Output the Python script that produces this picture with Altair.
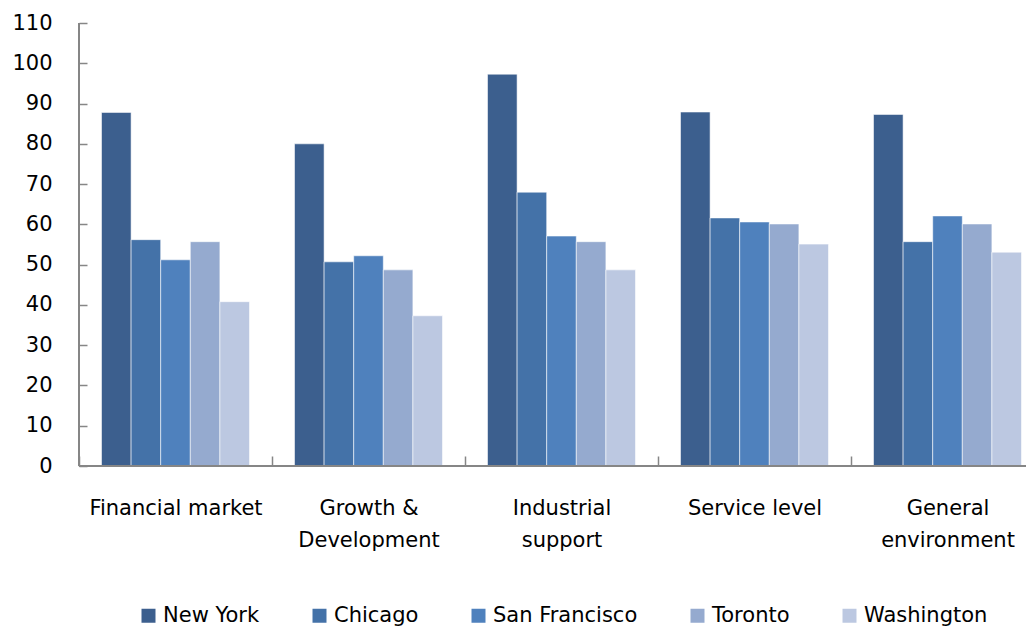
import altair as alt
import pandas as pd

categories = ["Financial market", "Growth & Development", "Industrial support",
              "Service level", "General environment"]
category_lines = [["Financial market"], ["Growth &", "Development"], ["Industrial", "support"],
                  ["Service level"], ["General", "environment"]]
cities = ["New York", "Chicago", "San Francisco", "Toronto", "Washington"]
new_york = [87.8, 80.0, 97.3, 87.9, 87.3]
chicago = [56.2, 50.7, 68.0, 61.6, 55.7]
san_francisco = [51.2, 52.2, 57.1, 60.6, 62.1]
toronto = [55.7, 48.7, 55.7, 60.1, 60.1]
washington = [40.8, 37.3, 48.7, 55.1, 53.1]
colors = ["#3C5F8E", "#4472A8", "#4F81BD", "#95AACF", "#BCC8E1"]
y_ticks = list(range(0, 111, 10))

series = [new_york, chicago, san_francisco, toronto, washington]
rows = []
for city, vals in zip(cities, series):
    for cat, v in zip(categories, vals):
        rows.append({"category": cat, "city": city, "value": v})
df = pd.DataFrame(rows)

# multi-line label expression
expr = "datum.label"
for cat, lines in reversed(list(zip(categories, category_lines))):
    arr = "[" + ",".join("'" + l + "'" for l in lines) + "]"
    expr = f"datum.label == '{cat}' ? {arr} : ({expr})"

FONT = "DejaVu Sans"
W, H = 947, 443
BAND_RANGE = 965
AXIS_COLOR = "#868686"

bars = alt.Chart(df).mark_bar(stroke="#ffffff", strokeWidth=0.8, strokeOpacity=0.7).encode(
    x=alt.X("category:N", sort=categories, title=None,
            scale=alt.Scale(range=[0, BAND_RANGE], paddingInner=0, paddingOuter=0),
            axis=alt.Axis(domain=False, tickBand="extent", tickSize=10, offset=-10,
                          tickColor=AXIS_COLOR, tickWidth=1.5, labelAngle=0,
                          labelPadding=31, labelFontSize=21, labelFont=FONT,
                          labelColor="#000000", labelLineHeight=32, labelExpr=expr,
                          labelBaseline="top")),
    xOffset=alt.XOffset("city:N", sort=cities,
                        scale=alt.Scale(paddingInner=0, paddingOuter=0.76)),
    y=alt.Y("value:Q", title=None,
            scale=alt.Scale(domain=[0, 110], nice=False),
            axis=alt.Axis(values=y_ticks, domain=False, grid=False, tickSize=8, offset=-8,
                          tickColor=AXIS_COLOR, tickWidth=1.5, labelPadding=27,
                          labelFontSize=21, labelFont=FONT, labelColor="#000000")),
    color=alt.Color("city:N", sort=cities,
                    scale=alt.Scale(domain=cities, range=colors),
                    legend=alt.Legend(title=None, orient="none", direction="horizontal",
                                      legendX=59, legendY=582,
                                      symbolType="square", symbolSize=196,
                                      symbolStrokeWidth=0, labelFontSize=21,
                                      labelFont=FONT, labelColor="#000000",
                                      columnPadding=49, labelOffset=4)),
)

one = pd.DataFrame({"a": [0]})
y_line = alt.Chart(one).mark_rule(color=AXIS_COLOR, strokeWidth=2).encode(
    x=alt.value(0), y=alt.value(0), y2=alt.value(H))
x_line = alt.Chart(one).mark_rule(color=AXIS_COLOR, strokeWidth=2).encode(
    x=alt.value(0), x2=alt.value(BAND_RANGE), y=alt.value(H))

chart = alt.layer(bars, y_line, x_line).properties(
    width=W, height=H,
    background="#ffffff",
    autosize=alt.AutoSizeParams(type="none"),
    padding={"left": 71, "top": 15, "right": 0, "bottom": 162},
).configure_view(strokeWidth=0, stroke=None)

chart.save("out.html", embed_options={"renderer": "svg", "actions": False})
